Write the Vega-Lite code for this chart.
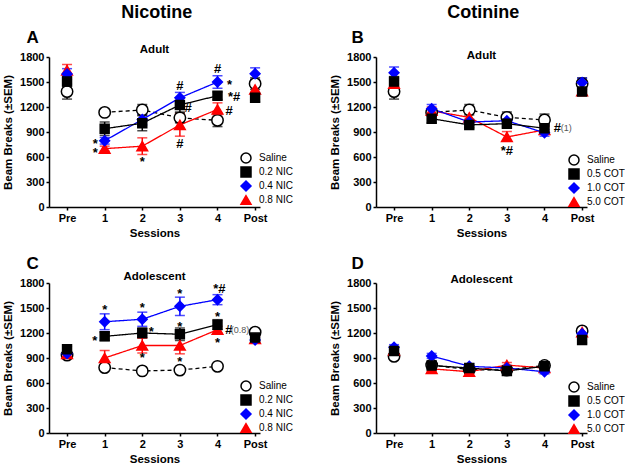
{
  "$schema": "https://vega.github.io/schema/vega-lite/v6.json",
  "padding": {"left": 2, "top": 3, "right": 0, "bottom": 0},
  "datasets": {
    "A": [
      {"g":"Saline","x":0,"y":1385,"lo":1295,"hi":1475},{"g":"Saline","x":1,"y":1135,"lo":1100,"hi":1170},{"g":"Saline","x":2,"y":1165,"lo":1105,"hi":1230},{"g":"Saline","x":3,"y":1070,"lo":1010,"hi":1130},{"g":"Saline","x":4,"y":1040,"lo":965,"hi":1115},{"g":"Saline","x":5,"y":1480,"lo":1410,"hi":1550},
      {"g":"0.8 NIC","x":0,"y":1640,"lo":1570,"hi":1710},{"g":"0.8 NIC","x":1,"y":700,"lo":670,"hi":730},{"g":"0.8 NIC","x":2,"y":730,"lo":630,"hi":830},{"g":"0.8 NIC","x":3,"y":985,"lo":850,"hi":1120},{"g":"0.8 NIC","x":4,"y":1170,"lo":1090,"hi":1250},{"g":"0.8 NIC","x":5,"y":1410,"lo":1380,"hi":1440},
      {"g":"0.4 NIC","x":0,"y":1595,"lo":1530,"hi":1660},{"g":"0.4 NIC","x":1,"y":795,"lo":755,"hi":835},{"g":"0.4 NIC","x":2,"y":1050,"lo":985,"hi":1115},{"g":"0.4 NIC","x":3,"y":1310,"lo":1250,"hi":1375},{"g":"0.4 NIC","x":4,"y":1500,"lo":1425,"hi":1575},{"g":"0.4 NIC","x":5,"y":1600,"lo":1530,"hi":1670},
      {"g":"0.2 NIC","x":0,"y":1505,"lo":1445,"hi":1565},{"g":"0.2 NIC","x":1,"y":940,"lo":860,"hi":1020},{"g":"0.2 NIC","x":2,"y":1005,"lo":915,"hi":1095},{"g":"0.2 NIC","x":3,"y":1225,"lo":1140,"hi":1310},{"g":"0.2 NIC","x":4,"y":1335,"lo":1290,"hi":1380},{"g":"0.2 NIC","x":5,"y":1310,"lo":1265,"hi":1355}
    ],
    "B": [
      {"g":"Saline","x":0,"y":1385,"lo":1295,"hi":1475},{"g":"Saline","x":1,"y":1135,"lo":1100,"hi":1170},{"g":"Saline","x":2,"y":1165,"lo":1105,"hi":1230},{"g":"Saline","x":3,"y":1075,"lo":1015,"hi":1140},{"g":"Saline","x":4,"y":1045,"lo":975,"hi":1115},{"g":"Saline","x":5,"y":1480,"lo":1410,"hi":1550},
      {"g":"5.0 COT","x":0,"y":1480,"lo":1440,"hi":1520},{"g":"5.0 COT","x":1,"y":1155,"lo":1110,"hi":1200},{"g":"5.0 COT","x":2,"y":1075,"lo":1020,"hi":1130},{"g":"5.0 COT","x":3,"y":840,"lo":790,"hi":905},{"g":"5.0 COT","x":4,"y":925,"lo":885,"hi":965},{"g":"5.0 COT","x":5,"y":1390,"lo":1350,"hi":1430},
      {"g":"1.0 COT","x":0,"y":1610,"lo":1540,"hi":1680},{"g":"1.0 COT","x":1,"y":1180,"lo":1130,"hi":1230},{"g":"1.0 COT","x":2,"y":1020,"lo":985,"hi":1055},{"g":"1.0 COT","x":3,"y":1035,"lo":1000,"hi":1070},{"g":"1.0 COT","x":4,"y":890,"lo":850,"hi":930},{"g":"1.0 COT","x":5,"y":1495,"lo":1450,"hi":1545},
      {"g":"0.5 COT","x":0,"y":1505,"lo":1445,"hi":1565},{"g":"0.5 COT","x":1,"y":1060,"lo":1010,"hi":1110},{"g":"0.5 COT","x":2,"y":985,"lo":950,"hi":1020},{"g":"0.5 COT","x":3,"y":1000,"lo":960,"hi":1040},{"g":"0.5 COT","x":4,"y":945,"lo":900,"hi":990},{"g":"0.5 COT","x":5,"y":1385,"lo":1340,"hi":1430}
    ],
    "C": [
      {"g":"Saline","x":0,"y":935,"lo":905,"hi":965},{"g":"Saline","x":1,"y":785,"lo":760,"hi":810},{"g":"Saline","x":2,"y":745,"lo":725,"hi":765},{"g":"Saline","x":3,"y":755,"lo":735,"hi":775},{"g":"Saline","x":4,"y":800,"lo":780,"hi":820},{"g":"Saline","x":5,"y":1210,"lo":1180,"hi":1240},
      {"g":"0.8 NIC","x":0,"y":950,"lo":920,"hi":980},{"g":"0.8 NIC","x":1,"y":900,"lo":810,"hi":990},{"g":"0.8 NIC","x":2,"y":1050,"lo":960,"hi":1140},{"g":"0.8 NIC","x":3,"y":1050,"lo":950,"hi":1150},{"g":"0.8 NIC","x":4,"y":1240,"lo":1200,"hi":1280},{"g":"0.8 NIC","x":5,"y":1130,"lo":1100,"hi":1160},
      {"g":"0.4 NIC","x":0,"y":955,"lo":930,"hi":980},{"g":"0.4 NIC","x":1,"y":1335,"lo":1240,"hi":1430},{"g":"0.4 NIC","x":2,"y":1365,"lo":1280,"hi":1450},{"g":"0.4 NIC","x":3,"y":1520,"lo":1410,"hi":1630},{"g":"0.4 NIC","x":4,"y":1600,"lo":1540,"hi":1660},{"g":"0.4 NIC","x":5,"y":1115,"lo":1090,"hi":1140},
      {"g":"0.2 NIC","x":0,"y":1005,"lo":970,"hi":1040},{"g":"0.2 NIC","x":1,"y":1160,"lo":1110,"hi":1210},{"g":"0.2 NIC","x":2,"y":1200,"lo":1140,"hi":1260},{"g":"0.2 NIC","x":3,"y":1185,"lo":1110,"hi":1260},{"g":"0.2 NIC","x":4,"y":1300,"lo":1240,"hi":1360},{"g":"0.2 NIC","x":5,"y":1145,"lo":1110,"hi":1180}
    ],
    "D": [
      {"g":"Saline","x":0,"y":920,"lo":890,"hi":950},{"g":"Saline","x":1,"y":815,"lo":790,"hi":840},{"g":"Saline","x":2,"y":760,"lo":740,"hi":780},{"g":"Saline","x":3,"y":755,"lo":735,"hi":775},{"g":"Saline","x":4,"y":810,"lo":790,"hi":830},{"g":"Saline","x":5,"y":1225,"lo":1195,"hi":1255},
      {"g":"5.0 COT","x":0,"y":990,"lo":960,"hi":1020},{"g":"5.0 COT","x":1,"y":770,"lo":740,"hi":800},{"g":"5.0 COT","x":2,"y":735,"lo":710,"hi":760},{"g":"5.0 COT","x":3,"y":815,"lo":785,"hi":845},{"g":"5.0 COT","x":4,"y":780,"lo":750,"hi":810},{"g":"5.0 COT","x":5,"y":1210,"lo":1180,"hi":1240},
      {"g":"1.0 COT","x":0,"y":1030,"lo":1000,"hi":1060},{"g":"1.0 COT","x":1,"y":925,"lo":895,"hi":955},{"g":"1.0 COT","x":2,"y":800,"lo":770,"hi":830},{"g":"1.0 COT","x":3,"y":780,"lo":750,"hi":810},{"g":"1.0 COT","x":4,"y":735,"lo":710,"hi":760},{"g":"1.0 COT","x":5,"y":1190,"lo":1160,"hi":1220},
      {"g":"0.5 COT","x":0,"y":985,"lo":950,"hi":1020},{"g":"0.5 COT","x":1,"y":810,"lo":770,"hi":850},{"g":"0.5 COT","x":2,"y":780,"lo":750,"hi":810},{"g":"0.5 COT","x":3,"y":745,"lo":720,"hi":770},{"g":"0.5 COT","x":4,"y":800,"lo":775,"hi":825},{"g":"0.5 COT","x":5,"y":1115,"lo":1080,"hi":1150}
    ],
    "annA": [
      {"x":0.75,"y":760,"t":"*"},{"x":0.75,"y":650,"t":"*"},{"x":2,"y":535,"t":"*"},{"x":3,"y":1450,"t":"#"},{"x":3.22,"y":1190,"t":"#"},{"x":3,"y":752,"t":"#"},{"x":4,"y":1660,"t":"#"},{"x":4.32,"y":1463,"t":"*"},{"x":4.44,"y":1320,"t":"*#"},{"x":4.31,"y":1151,"t":"#"}
    ],
    "annB": [{"x":3,"y":670,"t":"*#"},{"x":4.34,"y":944,"t":"#"}],
    "noteB": [{"x":4.58,"y":944,"t":"(1)"}],
    "annC": [
      {"x":1,"y":1482,"t":"*"},{"x":0.74,"y":1110,"t":"*"},{"x":2,"y":1502,"t":"*"},{"x":2.24,"y":1210,"t":"*"},{"x":2,"y":898,"t":"*"},{"x":3,"y":1670,"t":"*"},{"x":3,"y":1278,"t":"*"},{"x":3,"y":850,"t":"*"},{"x":4.05,"y":1725,"t":"*#"},{"x":4,"y":1390,"t":"*"},{"x":4.3,"y":1232,"t":"#"},{"x":4,"y":1082,"t":"*"}
    ],
    "noteC": [{"x":4.6,"y":1232,"t":"(0.8)"}]
  },
  "hconcat": [
    {
      "title": {"text": "Nicotine", "fontSize": 18, "offset": 7, "anchor": "middle", "dx": 9},
      "spacing": 15,
      "vconcat": [
        {
          "title": {"text": "A", "anchor": "start", "fontSize": 17, "dx": 24, "offset": -3},
          "vconcat": [
            {
              "width": 211, "height": 150,
              "title": {"text": "Adult", "offset": -4},
              "data": {"name": "A"},
              "encoding": {
                "x": {"field": "x", "type": "quantitative", "scale": {"domain": [-0.48, 5.13], "nice": false, "zero": false}, "axis": {"values": [0,1,2,3,4,5], "labelExpr": "datum.value == 0 ? 'Pre' : datum.value == 5 ? 'Post' : datum.label", "title": "Sessions"}},
                "y": {"field": "y", "type": "quantitative", "scale": {"domain": [0, 1800], "nice": false}, "axis": {"values": [0,300,600,900,1200,1500,1800], "format": "d", "title": "Beam Breaks (±SEM)"}}
              },
              "layer": [
                {"mark": {"type": "errorbar", "ticks": {"size": 10}, "thickness": 1.5}, "encoding": {"y": {"field": "lo", "type": "quantitative", "title": "Beam Breaks (±SEM)"}, "y2": {"field": "hi"}, "color": {"field": "g", "type": "nominal", "scale": {"range": ["black","#0000ff","#ff0000","black"]}, "legend": null}}},
                {"transform": [{"filter": "datum.x >= 1 && datum.x <= 4"}], "mark": {"type": "line", "strokeWidth": 1.3}, "encoding": {"color": {"field": "g", "type": "nominal", "scale": {"range": ["black","#0000ff","#ff0000","black"]}, "legend": null}, "strokeDash": {"field": "g", "type": "nominal", "scale": {"range": [[1,0],[1,0],[1,0],[4,3]]}, "legend": null}}},
                {"mark": {"type": "point", "filled": true, "opacity": 1, "strokeWidth": 1.5}, "encoding": {
                  "shape": {"field": "g", "type": "nominal", "scale": {"domain": ["Saline","0.2 NIC","0.4 NIC","0.8 NIC"], "range": ["circle","square","diamond","triangle-up"]}, "legend": {"orient": "none", "legendX": 191, "legendY": 95, "title": null}},
                  "fill": {"field": "g", "type": "nominal", "scale": {"domain": ["Saline","0.2 NIC","0.4 NIC","0.8 NIC"], "range": ["white","black","#0000ff","#ff0000"]}, "legend": {"orient": "none", "legendX": 191, "legendY": 95, "title": null}},
                  "stroke": {"field": "g", "type": "nominal", "scale": {"domain": ["Saline","0.2 NIC","0.4 NIC","0.8 NIC"], "range": ["black","black","#0000ff","#ff0000"]}, "legend": {"orient": "none", "legendX": 191, "legendY": 95, "title": null}},
                  "size": {"field": "g", "type": "nominal", "scale": {"range": [80,130,110,90]}, "legend": null}
                }},
                {"data": {"name": "annA"}, "mark": {"type": "text", "fontSize": 13, "fontWeight": "bold", "baseline": "middle", "align": "center", "color": "black"}, "encoding": {"text": {"field": "t"}}}
              ]
            }
          ],
          "resolve": {"scale": {"color": "independent", "fill": "independent", "stroke": "independent", "shape": "independent", "size": "independent", "strokeDash": "independent"}, "legend": {"color": "independent", "fill": "independent", "stroke": "independent", "shape": "independent", "size": "independent", "strokeDash": "independent"}}
        },
        {
          "title": {"text": "C", "anchor": "start", "fontSize": 17, "dx": 24, "offset": -2},
          "vconcat": [
            {
              "width": 211, "height": 150,
              "title": {"text": "Adolescent", "offset": -5},
              "data": {"name": "C"},
              "encoding": {
                "x": {"field": "x", "type": "quantitative", "scale": {"domain": [-0.48, 5.13], "nice": false, "zero": false}, "axis": {"values": [0,1,2,3,4,5], "labelExpr": "datum.value == 0 ? 'Pre' : datum.value == 5 ? 'Post' : datum.label", "title": "Sessions"}},
                "y": {"field": "y", "type": "quantitative", "scale": {"domain": [0, 1800], "nice": false}, "axis": {"values": [0,300,600,900,1200,1500,1800], "format": "d", "title": "Beam Breaks (±SEM)"}}
              },
              "layer": [
                {"mark": {"type": "errorbar", "ticks": {"size": 10}, "thickness": 1.5}, "encoding": {"y": {"field": "lo", "type": "quantitative", "title": "Beam Breaks (±SEM)"}, "y2": {"field": "hi"}, "color": {"field": "g", "type": "nominal", "scale": {"range": ["black","#0000ff","#ff0000","black"]}, "legend": null}}},
                {"transform": [{"filter": "datum.x >= 1 && datum.x <= 4"}], "mark": {"type": "line", "strokeWidth": 1.3}, "encoding": {"color": {"field": "g", "type": "nominal", "scale": {"range": ["black","#0000ff","#ff0000","black"]}, "legend": null}, "strokeDash": {"field": "g", "type": "nominal", "scale": {"range": [[1,0],[1,0],[1,0],[4,3]]}, "legend": null}}},
                {"mark": {"type": "point", "filled": true, "opacity": 1, "strokeWidth": 1.5}, "encoding": {
                  "shape": {"field": "g", "type": "nominal", "scale": {"domain": ["Saline","0.2 NIC","0.4 NIC","0.8 NIC"], "range": ["circle","square","diamond","triangle-up"]}, "legend": {"orient": "none", "legendX": 191, "legendY": 97, "title": null}},
                  "fill": {"field": "g", "type": "nominal", "scale": {"domain": ["Saline","0.2 NIC","0.4 NIC","0.8 NIC"], "range": ["white","black","#0000ff","#ff0000"]}, "legend": {"orient": "none", "legendX": 191, "legendY": 97, "title": null}},
                  "stroke": {"field": "g", "type": "nominal", "scale": {"domain": ["Saline","0.2 NIC","0.4 NIC","0.8 NIC"], "range": ["black","black","#0000ff","#ff0000"]}, "legend": {"orient": "none", "legendX": 191, "legendY": 97, "title": null}},
                  "size": {"field": "g", "type": "nominal", "scale": {"range": [80,130,110,90]}, "legend": null}
                }},
                {"data": {"name": "annC"}, "mark": {"type": "text", "fontSize": 13, "fontWeight": "bold", "baseline": "middle", "align": "center", "color": "black"}, "encoding": {"text": {"field": "t"}}},
                {"data": {"name": "noteC"}, "mark": {"type": "text", "fontSize": 9, "baseline": "middle", "align": "center", "color": "#555555"}, "encoding": {"text": {"field": "t"}}}
              ]
            }
          ],
          "resolve": {"scale": {"color": "independent", "fill": "independent", "stroke": "independent", "shape": "independent", "size": "independent", "strokeDash": "independent"}, "legend": {"color": "independent", "fill": "independent", "stroke": "independent", "shape": "independent", "size": "independent", "strokeDash": "independent"}}
        }
      ],
      "resolve": {"scale": {"x": "independent", "y": "independent", "color": "independent", "fill": "independent", "stroke": "independent", "shape": "independent", "size": "independent", "strokeDash": "independent"}, "legend": {"color": "independent", "fill": "independent", "stroke": "independent", "shape": "independent", "size": "independent", "strokeDash": "independent"}}
    },
    {
      "title": {"text": "Cotinine", "fontSize": 18, "offset": 7, "anchor": "middle", "dx": 6},
      "spacing": 15,
      "vconcat": [
        {
          "title": {"text": "B", "anchor": "start", "fontSize": 17, "dx": 22, "offset": 3},
          "vconcat": [
            {
              "width": 211, "height": 150,
              "title": {"text": "Adult", "offset": -10},
              "data": {"name": "B"},
              "encoding": {
                "x": {"field": "x", "type": "quantitative", "scale": {"domain": [-0.48, 5.13], "nice": false, "zero": false}, "axis": {"values": [0,1,2,3,4,5], "labelExpr": "datum.value == 0 ? 'Pre' : datum.value == 5 ? 'Post' : datum.label", "title": "Sessions"}},
                "y": {"field": "y", "type": "quantitative", "scale": {"domain": [0, 1800], "nice": false}, "axis": {"values": [0,300,600,900,1200,1500,1800], "format": "d", "title": "Beam Breaks (±SEM)"}}
              },
              "layer": [
                {"mark": {"type": "errorbar", "ticks": {"size": 10}, "thickness": 1.5}, "encoding": {"y": {"field": "lo", "type": "quantitative", "title": "Beam Breaks (±SEM)"}, "y2": {"field": "hi"}, "color": {"field": "g", "type": "nominal", "scale": {"range": ["black","#0000ff","#ff0000","black"]}, "legend": null}}},
                {"transform": [{"filter": "datum.x >= 1 && datum.x <= 4"}], "mark": {"type": "line", "strokeWidth": 1.3}, "encoding": {"color": {"field": "g", "type": "nominal", "scale": {"range": ["black","#0000ff","#ff0000","black"]}, "legend": null}, "strokeDash": {"field": "g", "type": "nominal", "scale": {"range": [[1,0],[1,0],[1,0],[4,3]]}, "legend": null}}},
                {"mark": {"type": "point", "filled": true, "opacity": 1, "strokeWidth": 1.5}, "encoding": {
                  "shape": {"field": "g", "type": "nominal", "scale": {"domain": ["Saline","0.5 COT","1.0 COT","5.0 COT"], "range": ["circle","square","diamond","triangle-up"]}, "legend": {"orient": "none", "legendX": 192, "legendY": 97, "title": null}},
                  "fill": {"field": "g", "type": "nominal", "scale": {"domain": ["Saline","0.5 COT","1.0 COT","5.0 COT"], "range": ["white","black","#0000ff","#ff0000"]}, "legend": {"orient": "none", "legendX": 192, "legendY": 97, "title": null}},
                  "stroke": {"field": "g", "type": "nominal", "scale": {"domain": ["Saline","0.5 COT","1.0 COT","5.0 COT"], "range": ["black","black","#0000ff","#ff0000"]}, "legend": {"orient": "none", "legendX": 192, "legendY": 97, "title": null}},
                  "size": {"field": "g", "type": "nominal", "scale": {"range": [80,130,110,90]}, "legend": null}
                }},
                {"data": {"name": "annB"}, "mark": {"type": "text", "fontSize": 13, "fontWeight": "bold", "baseline": "middle", "align": "center", "color": "black"}, "encoding": {"text": {"field": "t"}}},
                {"data": {"name": "noteB"}, "mark": {"type": "text", "fontSize": 9, "baseline": "middle", "align": "center", "color": "#555555"}, "encoding": {"text": {"field": "t"}}}
              ]
            }
          ],
          "resolve": {"scale": {"color": "independent", "fill": "independent", "stroke": "independent", "shape": "independent", "size": "independent", "strokeDash": "independent"}, "legend": {"color": "independent", "fill": "independent", "stroke": "independent", "shape": "independent", "size": "independent", "strokeDash": "independent"}}
        },
        {
          "title": {"text": "D", "anchor": "start", "fontSize": 17, "dx": 22, "offset": 1},
          "vconcat": [
            {
              "width": 211, "height": 150,
              "title": {"text": "Adolescent", "offset": -8},
              "data": {"name": "D"},
              "encoding": {
                "x": {"field": "x", "type": "quantitative", "scale": {"domain": [-0.48, 5.13], "nice": false, "zero": false}, "axis": {"values": [0,1,2,3,4,5], "labelExpr": "datum.value == 0 ? 'Pre' : datum.value == 5 ? 'Post' : datum.label", "title": "Sessions"}},
                "y": {"field": "y", "type": "quantitative", "scale": {"domain": [0, 1800], "nice": false}, "axis": {"values": [0,300,600,900,1200,1500,1800], "format": "d", "title": "Beam Breaks (±SEM)"}}
              },
              "layer": [
                {"mark": {"type": "errorbar", "ticks": {"size": 10}, "thickness": 1.5}, "encoding": {"y": {"field": "lo", "type": "quantitative", "title": "Beam Breaks (±SEM)"}, "y2": {"field": "hi"}, "color": {"field": "g", "type": "nominal", "scale": {"range": ["black","#0000ff","#ff0000","black"]}, "legend": null}}},
                {"transform": [{"filter": "datum.x >= 1 && datum.x <= 4"}], "mark": {"type": "line", "strokeWidth": 1.3}, "encoding": {"color": {"field": "g", "type": "nominal", "scale": {"range": ["black","#0000ff","#ff0000","black"]}, "legend": null}, "strokeDash": {"field": "g", "type": "nominal", "scale": {"range": [[1,0],[1,0],[1,0],[4,3]]}, "legend": null}}},
                {"mark": {"type": "point", "filled": true, "opacity": 1, "strokeWidth": 1.5}, "encoding": {
                  "shape": {"field": "g", "type": "nominal", "scale": {"domain": ["Saline","0.5 COT","1.0 COT","5.0 COT"], "range": ["circle","square","diamond","triangle-up"]}, "legend": {"orient": "none", "legendX": 192, "legendY": 98, "title": null}},
                  "fill": {"field": "g", "type": "nominal", "scale": {"domain": ["Saline","0.5 COT","1.0 COT","5.0 COT"], "range": ["white","black","#0000ff","#ff0000"]}, "legend": {"orient": "none", "legendX": 192, "legendY": 98, "title": null}},
                  "stroke": {"field": "g", "type": "nominal", "scale": {"domain": ["Saline","0.5 COT","1.0 COT","5.0 COT"], "range": ["black","black","#0000ff","#ff0000"]}, "legend": {"orient": "none", "legendX": 192, "legendY": 98, "title": null}},
                  "size": {"field": "g", "type": "nominal", "scale": {"range": [80,130,110,90]}, "legend": null}
                }}
              ]
            }
          ],
          "resolve": {"scale": {"color": "independent", "fill": "independent", "stroke": "independent", "shape": "independent", "size": "independent", "strokeDash": "independent"}, "legend": {"color": "independent", "fill": "independent", "stroke": "independent", "shape": "independent", "size": "independent", "strokeDash": "independent"}}
        }
      ],
      "resolve": {"scale": {"x": "independent", "y": "independent", "color": "independent", "fill": "independent", "stroke": "independent", "shape": "independent", "size": "independent", "strokeDash": "independent"}, "legend": {"color": "independent", "fill": "independent", "stroke": "independent", "shape": "independent", "size": "independent", "strokeDash": "independent"}}
    }
  ],
  "spacing": 36,
  "resolve": {"scale": {"x": "independent", "y": "independent", "color": "independent", "fill": "independent", "stroke": "independent", "shape": "independent", "size": "independent", "strokeDash": "independent"}, "legend": {"color": "independent", "fill": "independent", "stroke": "independent", "shape": "independent", "size": "independent", "strokeDash": "independent"}},
  "config": {
    "view": {"stroke": null},
    "font": "Liberation Sans",
    "axis": {"domainColor": "black", "domainWidth": 1.5, "tickColor": "black", "tickWidth": 1.5, "tickSize": 3, "grid": false, "labelFont": "Liberation Sans", "labelFontWeight": "bold", "labelFontSize": 11, "labelColor": "black", "titleFont": "Liberation Sans", "titleFontWeight": "bold", "titleFontSize": 11.5, "titleColor": "black", "labelPadding": 2},
    "axisY": {"titlePadding": 6},
    "axisX": {"labelFontSize": 11, "titlePadding": 4},
    "legend": {"symbolSize": 100, "symbolStrokeWidth": 1.5, "labelFont": "Liberation Sans", "labelFontSize": 10, "labelColor": "black", "rowPadding": -5, "labelOffset": 7, "padding": 0},
    "title": {"font": "Liberation Sans", "fontWeight": "bold", "color": "black", "fontSize": 11.5}
  }
}
